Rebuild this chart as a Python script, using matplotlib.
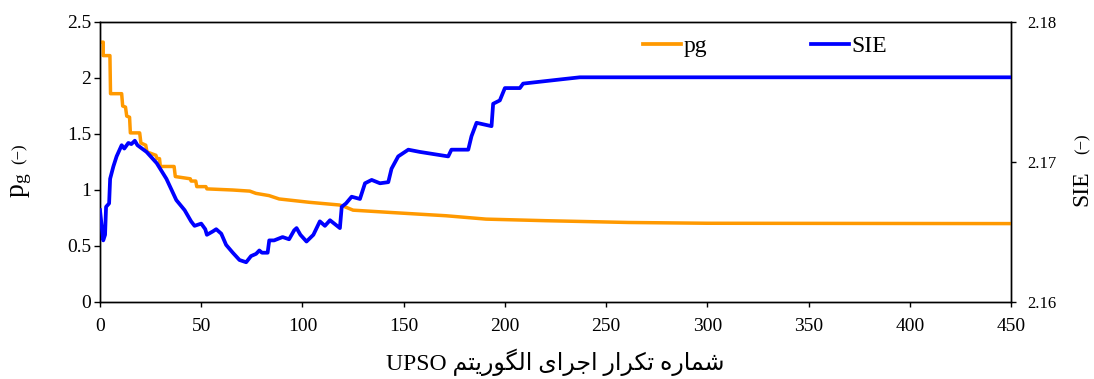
import matplotlib
matplotlib.use("Agg")
import matplotlib.pyplot as plt
from matplotlib.lines import Line2D

plt.rcParams['font.family'] = ['Liberation Serif', 'DejaVu Sans']
plt.rcParams['mathtext.fontset'] = 'custom'
plt.rcParams['mathtext.rm'] = 'Liberation Serif'
plt.rcParams['mathtext.it'] = 'Liberation Serif:italic'

# ---- data ----
pg_x = [0, 1.6, 1.6, 4.9, 5.2, 10.7, 11.2, 12.6, 13.2, 14.6, 15.0, 19.6, 20.2, 22.6, 23.2,
        27.6, 28.2, 29.4, 29.8, 36.6, 37.2, 44.6, 45.0, 47.3, 47.8, 52.3, 52.8, 65.5, 74,
        77, 83.5, 88.5, 98.5, 103.5, 118.3, 121, 125, 143, 171, 190.7, 220, 261, 300, 450]
pg_y = [2.32, 2.32, 2.20, 2.20, 1.86, 1.86, 1.75, 1.74, 1.66, 1.65, 1.51, 1.51, 1.42, 1.40, 1.34,
        1.31, 1.28, 1.28, 1.21, 1.21, 1.12, 1.10, 1.08, 1.08, 1.03, 1.03, 1.01, 1.00, 0.99,
        0.97, 0.95, 0.92, 0.90, 0.89, 0.866, 0.85, 0.82, 0.80, 0.77, 0.74, 0.726, 0.71, 0.703, 0.70]

sie_x = [0, 1.6, 2.5, 3, 4.5, 5, 6.6, 8.2, 10.7, 12, 14, 15.5, 17.2, 18.5, 20, 23, 28, 32.8,
         37.7, 41.8, 45, 46.7, 50, 52, 52.8, 55.7, 57.4, 59.9, 62.3, 65.6, 68.9, 72.2, 74.6,
         77.1, 78.7, 80, 82.8, 83.6, 86, 90.2, 93.4, 95.9, 97.1, 99, 102, 105.4, 108.6, 111.1,
         113.6, 118.5, 119.4, 121.5, 124.3, 128.4, 130.9, 134.2, 138.3, 142.4, 144, 147.3,
         152.3, 158, 172, 173.6, 181.9, 183.5, 186, 193.4, 194.2, 197.5, 200, 207.4, 209,
         218.9, 228.8, 237, 450]
sie_y = [2.16656, 2.16440, 2.16480, 2.16680, 2.16704, 2.16880, 2.16968, 2.17040, 2.17120,
         2.17096, 2.17136, 2.17128, 2.17152, 2.17120, 2.17104, 2.17072, 2.16992, 2.16880,
         2.16728, 2.16656, 2.16576, 2.16544, 2.16560, 2.16520, 2.16480, 2.16504, 2.16520,
         2.16488, 2.16408, 2.16352, 2.16300, 2.16284, 2.16328, 2.16344, 2.16368, 2.16352,
         2.16352, 2.16440, 2.16440, 2.16464, 2.16448, 2.16512, 2.16528, 2.16480, 2.16432,
         2.16480, 2.16576, 2.16544, 2.16584, 2.16528, 2.16680, 2.16704, 2.16752, 2.16736,
         2.16848, 2.16872, 2.16848, 2.16856, 2.16952, 2.17040, 2.17088, 2.17072, 2.17040,
         2.17088, 2.17088, 2.17184, 2.17280, 2.17256, 2.17416, 2.17440, 2.17528, 2.17528,
         2.17560, 2.17576, 2.17592, 2.17605, 2.17605]

x_ticks = [0, 50, 100, 150, 200, 250, 300, 350, 400, 450]
pg_ticks = [0, 0.5, 1, 1.5, 2, 2.5]
pg_ticklabels = ['0', '0.5', '1', '1.5', '2', '2.5']
sie_ticks = [2.16, 2.17, 2.18]

labels = ['pg', 'SIE']
colors = ['#FF9900', '#0000FF']

# Persian x-label, shaped manually with presentation forms (visual order)
persian_logical_shaped = (
    '\uFEB7\uFEE4\uFE8E\uFEAD\uFEE9' + ' ' +          # شماره
    '\uFE97\uFB91\uFEAE\uFE8D\uFEAD' + ' ' +          # تکرار
    '\uFE8D\uFE9F\uFEAE\uFE8D\uFBFC' + ' ' +          # اجرای
    '\uFE8D\uFEDF\uFB95\uFEEE\uFEAD\uFBFE\uFE98\uFEE2'  # الگوریتم
)
xlabel_visual = 'UPSO ' + persian_logical_shaped[::-1]

# ---- figure ----
W, H = 1094, 379
fig = plt.figure(figsize=(W / 100, H / 100), dpi=100)
ax = fig.add_axes([100 / W, 1 - 302 / H, (1011 - 100) / W, (302 - 22) / H])
ax2 = ax.twinx()

ax.plot(pg_x, pg_y, color=colors[0], lw=2.5, solid_joinstyle='round', zorder=3)
ax2.plot(sie_x, sie_y, color=colors[1], lw=2.7, solid_joinstyle='round', zorder=3)

ax.set_xlim(0, 450)
ax.set_ylim(0, 2.5)
ax2.set_ylim(2.16, 2.18)
ax.set_xticks(x_ticks)
ax.set_yticks(pg_ticks)
ax.set_yticklabels(pg_ticklabels)
ax2.set_yticks(sie_ticks)
ax2.set_yticklabels([f'{v:.2f}' for v in sie_ticks])

for a in (ax, ax2):
    for s in a.spines.values():
        s.set_linewidth(1.0)
ax.tick_params(axis='y', direction='out', length=4.5, width=1.0, labelsize=14, pad=2)
ax.tick_params(axis='x', direction='out', length=3.5, width=1.0, labelsize=14, pad=8)
ax2.tick_params(axis='y', direction='out', length=3.5, width=1.0, labelsize=12, pad=8)

fig.text(555 / W, 1 - 362 / H, xlabel_visual, ha='center', va='center', fontsize=17,
         family=['Liberation Serif', 'DejaVu Sans'])

# left y label
fig.text(21 / W, 1 - 185 / H, r'p$_\mathregular{g}$', rotation=90, ha='center', va='center', fontsize=20)
fig.text(20 / W, 1 - 154 / H, '(\u2212)', rotation=90, ha='center', va='center', fontsize=12)
# right y label
fig.text(1082 / W, 1 - 188 / H, 'SIE', rotation=90, ha='center', va='center', fontsize=17)
fig.text(1083 / W, 1 - 144 / H, '(\u2212)', rotation=90, ha='center', va='center', fontsize=12)

handles = [Line2D([], [], color=c, lw=2.7) for c in colors]
fig.legend(handles, labels, ncol=2, loc='center left',
           bbox_to_anchor=(643 / W, 1 - 46 / H), frameon=False, fontsize=17,
           handlelength=1.6, handletextpad=0.12, columnspacing=4.4,
           borderpad=0, borderaxespad=0)

fig.savefig('out.png', dpi=100)
